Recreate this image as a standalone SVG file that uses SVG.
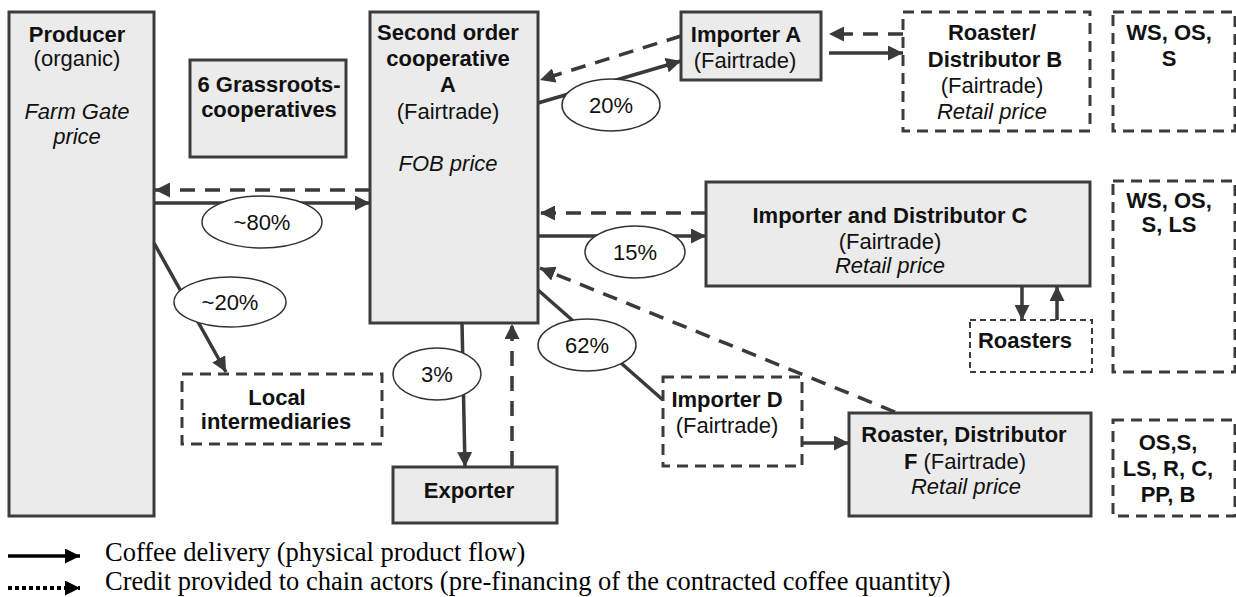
<svg xmlns="http://www.w3.org/2000/svg" width="1236" height="597" viewBox="0 0 1236 597">
<style>
.box{fill:#ebebeb;stroke:#3c3c3c;stroke-width:3}
.dbox{fill:#fff;stroke:#3c3c3c;stroke-width:3;stroke-dasharray:11 7}
.fbox{fill:#fff;stroke:#3c3c3c;stroke-width:2;stroke-dasharray:6 4}
.ell{fill:#fff;stroke:#333;stroke-width:1.5}
text{font-family:"Liberation Sans",Arial,sans-serif;font-size:22px;fill:#111;text-anchor:middle}
.b{font-weight:bold}
.i{font-style:italic}
.sol{fill:none;stroke:#3a3a3a;stroke-width:3.5}
.das{fill:none;stroke:#3a3a3a;stroke-width:3.5;stroke-dasharray:15 10}
.leg{font-family:"Liberation Serif","Times New Roman",serif;font-size:26.5px;text-anchor:start;fill:#000}
</style>
<defs>
<marker id="ah" markerUnits="userSpaceOnUse" markerWidth="16" markerHeight="15" refX="15" refY="7.5" orient="auto">
<path d="M0,0 L15,7.5 L0,15 z" fill="#3a3a3a"/>
</marker>
<marker id="ahk" markerUnits="userSpaceOnUse" markerWidth="16" markerHeight="15" refX="15" refY="7.5" orient="auto">
<path d="M0,0 L15,7.5 L0,15 z" fill="#000"/>
</marker>
</defs>

<g id="producer">
<rect class="box" x="9" y="12" width="145" height="504"/>
<text x="77" y="42" class="b">Producer</text>
<text x="77" y="66">(organic)</text>
<text x="77" y="119" class="i">Farm Gate</text>
<text x="77" y="144" class="i">price</text>
</g>
<g id="grassroots">
<rect class="box" x="190" y="60" width="156" height="97"/>
<text x="269" y="92" class="b">6 Grassroots-</text>
<text x="269" y="117" class="b">cooperatives</text>
</g>
<g id="cooperative">
<rect class="box" x="370" y="12" width="168" height="311"/>
<text x="448" y="40" class="b">Second order</text>
<text x="448" y="66" class="b">cooperative</text>
<text x="448" y="92" class="b">A</text>
<text x="448" y="119">(Fairtrade)</text>
<text x="448" y="171" class="i">FOB price</text>
</g>
<g id="importerA">
<rect class="box" x="681" y="12" width="140" height="68"/>
<text x="746" y="42" class="b">Importer A</text>
<text x="745" y="68">(Fairtrade)</text>
</g>
<g id="roasterB">
<rect class="dbox" x="903" y="12" width="187" height="119"/>
<text x="992" y="40" class="b">Roaster/</text>
<text x="995" y="67" class="b">Distributor B</text>
<text x="992" y="93">(Fairtrade)</text>
<text x="992" y="119" class="i">Retail price</text>
</g>
<g id="ws1">
<rect class="dbox" x="1113" y="12" width="122" height="119"/>
<text x="1169" y="40" class="b">WS, OS,</text>
<text x="1169" y="66" class="b">S</text>
</g>
<g id="importerC">
<rect class="box" x="706" y="182" width="384" height="104"/>
<text x="890" y="223" class="b">Importer and Distributor C</text>
<text x="890" y="249">(Fairtrade)</text>
<text x="890" y="273" class="i">Retail price</text>
</g>
<g id="ws2">
<rect class="dbox" x="1113" y="181" width="122" height="191"/>
<text x="1169" y="208" class="b">WS, OS,</text>
<text x="1169" y="232" class="b">S, LS</text>
</g>
<g id="roasters">
<rect class="fbox" x="970" y="320" width="122" height="52"/>
<text x="1025" y="348" class="b">Roasters</text>
</g>
<g id="local">
<rect class="dbox" x="182" y="374" width="200" height="70"/>
<text x="277" y="405" class="b">Local</text>
<text x="276" y="429" class="b">intermediaries</text>
</g>
<g id="exporter">
<rect class="box" x="393" y="467" width="164" height="56"/>
<text x="469" y="498" class="b">Exporter</text>
</g>
<g id="importerD">
<rect class="dbox" x="663" y="377" width="139" height="89"/>
<text x="727" y="407" class="b">Importer D</text>
<text x="727" y="433">(Fairtrade)</text>
</g>
<g id="roasterF">
<rect class="box" x="849" y="413" width="242" height="103"/>
<text x="964" y="442" class="b">Roaster, Distributor</text>
<text x="965" y="469"><tspan class="b">F</tspan> (Fairtrade)</text>
<text x="966" y="494" class="i">Retail price</text>
</g>
<g id="ws3">
<rect class="dbox" x="1113" y="420" width="122" height="96"/>
<text x="1168" y="450" class="b">OS,S,</text>
<text x="1168" y="476" class="b">LS, R, C,</text>
<text x="1168" y="502" class="b">PP, B</text>
</g>

<g id="connectors">
<line class="sol" x1="154" y1="203" x2="370" y2="203" marker-end="url(#ah)"/>
<line class="das" x1="370" y1="190" x2="155" y2="190" marker-end="url(#ah)"/>
<line class="sol" x1="154" y1="243" x2="226" y2="372" marker-end="url(#ah)"/>
<line class="sol" x1="538" y1="103" x2="681" y2="61" marker-end="url(#ah)"/>
<line class="das" x1="681" y1="36" x2="540" y2="80" marker-end="url(#ah)"/>
<line class="sol" x1="829" y1="53" x2="903" y2="53" marker-end="url(#ah)"/>
<line class="das" x1="903" y1="34" x2="829" y2="34" marker-end="url(#ah)"/>
<line class="sol" x1="538" y1="236" x2="706" y2="236" marker-end="url(#ah)"/>
<line class="das" x1="706" y1="213" x2="540" y2="213" marker-end="url(#ah)"/>
<line class="das" x1="895" y1="412" x2="540" y2="268" marker-end="url(#ah)"/>
<line class="sol" x1="538" y1="290" x2="663" y2="400"/>
<line class="sol" x1="802" y1="443" x2="849" y2="443" marker-end="url(#ah)"/>
<line class="sol" x1="462" y1="323" x2="465" y2="467" marker-end="url(#ah)"/>
<line class="das" x1="512" y1="466" x2="512" y2="324" marker-end="url(#ah)"/>
<line class="sol" x1="1022" y1="286" x2="1022" y2="320" marker-end="url(#ah)"/>
<line class="sol" x1="1057" y1="320" x2="1057" y2="286" marker-end="url(#ah)"/>
</g>

<g id="labels">
<ellipse class="ell" cx="262" cy="222" rx="60" ry="26"/>
<text x="262" y="230">~80%</text>
<ellipse class="ell" cx="230" cy="302" rx="56" ry="25"/>
<text x="230" y="310">~20%</text>
<ellipse class="ell" cx="611" cy="105" rx="49" ry="26"/>
<text x="611" y="113">20%</text>
<ellipse class="ell" cx="635" cy="252" rx="50" ry="26"/>
<text x="635" y="260">15%</text>
<ellipse class="ell" cx="587" cy="345" rx="49" ry="26"/>
<text x="587" y="353">62%</text>
<ellipse class="ell" cx="437" cy="374" rx="44" ry="26"/>
<text x="437" y="382">3%</text>
</g>

<g id="legend">
<line x1="8" y1="556" x2="80" y2="556" stroke="#000" stroke-width="3.5" marker-end="url(#ahk)"/>
<line x1="8" y1="588" x2="80" y2="588" stroke="#000" stroke-width="4" stroke-dasharray="4 3" marker-end="url(#ahk)"/>
<text class="leg" x="105" y="561">Coffee delivery (physical product flow)</text>
<text class="leg" x="105" y="590">Credit provided to chain actors (pre-financing of the contracted coffee quantity)</text>
</g>
</svg>
